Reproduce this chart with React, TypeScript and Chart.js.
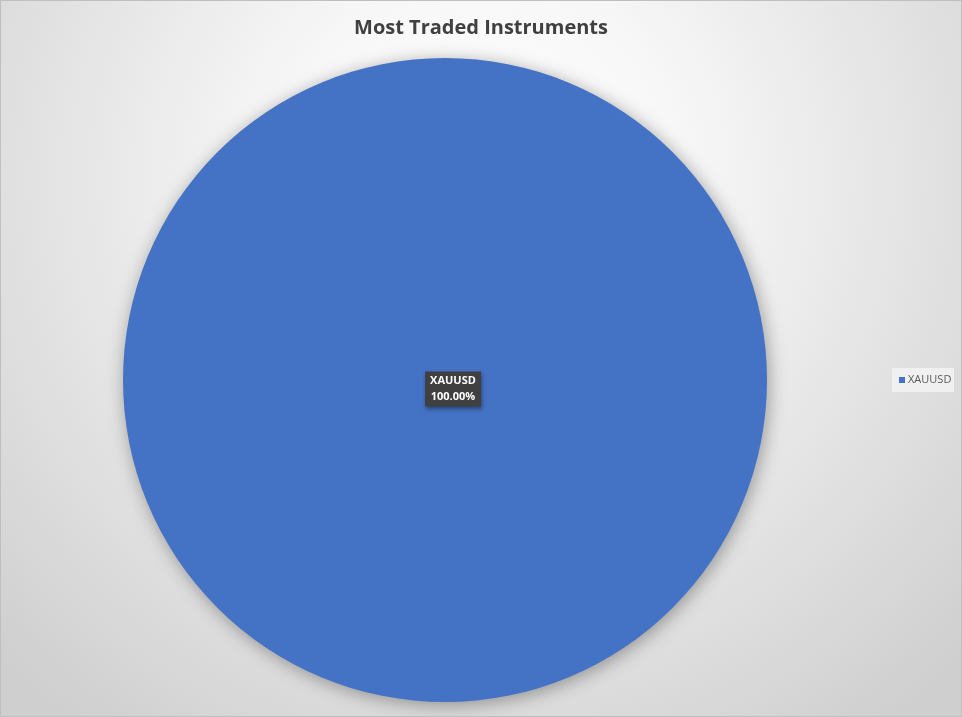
import { useEffect, useRef } from "react";
import { Chart, registerables, type Plugin } from "chart.js";

Chart.register(...registerables);

const title = "Most Traded Instruments";
const labels = ["XAUUSD"];
const shares = [100];
const colors = ["#4472C4"];

// title centred on the whole chart, not just the plot area
const topTitle: Plugin<"pie"> = {
  id: "topTitle",
  afterDraw(chart) {
    const { ctx } = chart;
    ctx.save();
    ctx.fillStyle = "#404040";
    ctx.font = "bold 20px 'Open Sans', sans-serif";
    ctx.textAlign = "center";
    ctx.textBaseline = "middle";
    ctx.fillText(title, chart.width / 2, 27);
    ctx.restore();
  },
};

// soft drop shadow under the pie, like the Excel preset
const pieShadow: Plugin<"pie"> = {
  id: "pieShadow",
  beforeDatasetDraw(chart) {
    const { ctx } = chart;
    ctx.save();
    ctx.shadowColor = "rgba(0,0,0,0.35)";
    ctx.shadowBlur = 18;
    ctx.shadowOffsetX = 2;
    ctx.shadowOffsetY = 3;
  },
  afterDatasetDraw(chart) {
    chart.ctx.restore();
  },
};

// dark callout box with name + percentage
const sliceLabels: Plugin<"pie"> = {
  id: "sliceLabels",
  afterDatasetsDraw(chart) {
    const { ctx } = chart;
    const meta = chart.getDatasetMeta(0);
    const values = chart.data.datasets[0].data as number[];
    const total = values.reduce((a, b) => a + b, 0);
    meta.data.forEach((arc, i) => {
      const p = arc.getProps(["x", "y"], true) as { x: number; y: number };
      const cx = p.x + 8;
      const cy = p.y + 9;
      const w = 56;
      const h = 35;
      ctx.save();
      ctx.shadowColor = "rgba(0,0,0,0.4)";
      ctx.shadowBlur = 4;
      ctx.shadowOffsetX = 1;
      ctx.shadowOffsetY = 2;
      ctx.fillStyle = "#404040";
      ctx.fillRect(cx - w / 2, cy - h / 2, w, h);
      ctx.restore();
      ctx.save();
      ctx.fillStyle = "#ffffff";
      ctx.font = "bold 11px 'Open Sans', sans-serif";
      ctx.textAlign = "center";
      ctx.textBaseline = "middle";
      ctx.fillText(String(chart.data.labels![i]), cx, cy - 8);
      ctx.fillText(((values[i] / total) * 100).toFixed(2) + "%", cx, cy + 8);
      ctx.restore();
    });
  },
};

// right-hand legend on a light panel
const sideLegend: Plugin<"pie"> = {
  id: "sideLegend",
  afterDraw(chart) {
    const { ctx } = chart;
    const names = chart.data.labels as string[];
    const fills = chart.data.datasets[0].backgroundColor as string[];
    const x0 = 891;
    const rowH = 24;
    const y0 = chart.chartArea.top + (chart.chartArea.bottom - chart.chartArea.top) / 2 - (rowH * names.length) / 2;
    ctx.save();
    ctx.fillStyle = "rgba(242,242,242,0.9)";
    ctx.fillRect(x0, y0, 62, rowH * names.length);
    ctx.font = "11px 'Open Sans', sans-serif";
    ctx.textBaseline = "middle";
    names.forEach((n, i) => {
      const cy = y0 + rowH * i + rowH / 2;
      ctx.fillStyle = fills[i];
      ctx.fillRect(x0 + 7, cy - 3, 6, 6);
      ctx.fillStyle = "#595959";
      ctx.fillText(n, x0 + 16, cy);
    });
    ctx.restore();
  },
};

function PieChart() {
  const ref = useRef<HTMLCanvasElement | null>(null);

  useEffect(() => {
    if (!ref.current) return;
    const chart = new Chart(ref.current, {
      type: "pie",
      data: {
        labels,
        datasets: [{ data: shares, backgroundColor: colors, borderWidth: 0 }],
      },
      options: {
        responsive: true,
        maintainAspectRatio: false,
        animation: false,
        layout: { padding: { left: 122, right: 194, top: 57, bottom: 14 } },
        plugins: {
          legend: { display: false },
          tooltip: { enabled: false },
          title: { display: false },
        },
      },
      plugins: [pieShadow, sliceLabels, sideLegend, topTitle],
    });
    return () => chart.destroy();
  }, []);

  return (
    <div
      style={{
        position: "absolute",
        left: 0,
        top: 0,
        width: 962,
        height: 717,
        boxSizing: "border-box",
        border: "1px solid #bfbfbf",
        background: "radial-gradient(ellipse 70% 95% at 50% 25%, #ffffff 0%, #f7f7f7 30%, #cfcfcf 100%)",
      }}
    >
      <canvas ref={ref} />
    </div>
  );
}

export default function App() {
  return <PieChart />;
}
